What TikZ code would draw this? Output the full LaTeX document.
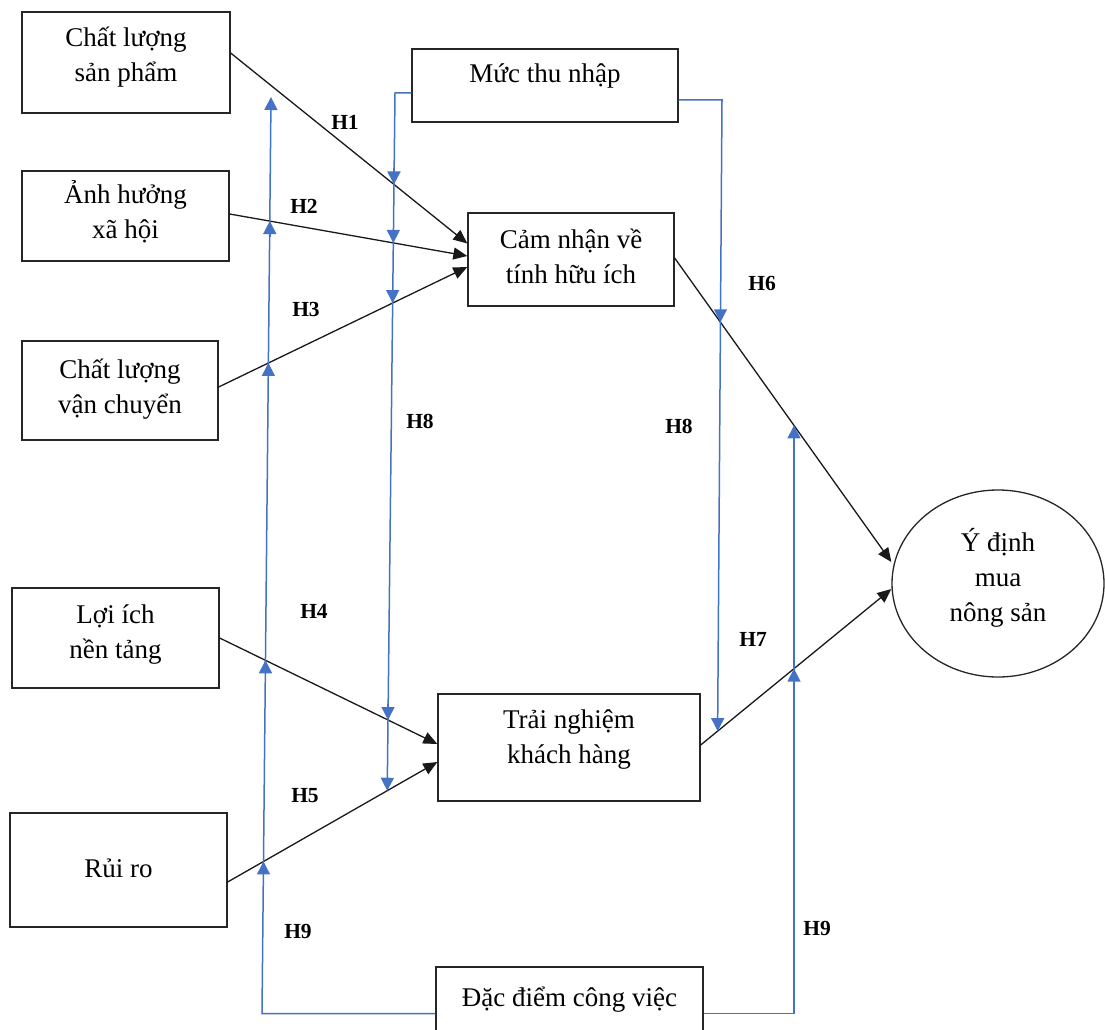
\documentclass[tikz,border=0pt]{standalone}
\usepackage{fontspec}
\setmainfont{Liberation Serif}
\usetikzlibrary{arrows.meta,calc,intersections,shapes.geometric}
\definecolor{wblue}{HTML}{4472C4}
\newcommand\mystrut{\leavevmode\vrule width 0pt height 27pt depth 8pt\relax}
\newcommand\myend[1]{\leavevmode\vrule width 0pt height 27pt depth #1pt\relax}
\tikzset{
  box/.style={draw=black!85, line width=1.3pt, rectangle, inner sep=0pt, align=center,
    font=\fontsize{27}{35}\selectfont},
  oval/.style={draw=black!85, line width=1.3pt, ellipse, inner sep=0pt, align=center,
    font=\fontsize{27}{35}\selectfont},
  conn/.style={draw=black!90, line width=1.3pt, -{Triangle[length=14pt,width=12pt]}},
  bline/.style={draw=wblue, line width=1.5pt},
  barrow/.style={draw=wblue, line width=1.5pt, -{Triangle[length=13pt,width=13pt]}},
  btip/.style={draw=wblue, line width=1.5pt, -{Triangle[length=13pt,width=13pt]}},
  hlab/.style={font=\fontsize{21.5}{24}\selectfont\bfseries, inner sep=0pt},
}
\begin{document}
\begin{tikzpicture}[x=1pt,y=-1pt]
\useasboundingbox (0,0) rectangle (1105,1030);
\fill[white] (0,0) rectangle (1105,1030);

% boxes
\node[box, minimum width=208pt, minimum height=101pt] (b1) at (126,62.5) {Chất lượng\mystrut\\sản phẩm\myend{23}};
\node[box, minimum width=207pt, minimum height=90pt] (b2) at (125.5,216) {Ảnh hưởng\mystrut\\xã hội\myend{18}};
\node[box, minimum width=196pt, minimum height=99pt] (b3) at (120,390.5) {Chất lượng\mystrut\\vận chuyển\myend{17}};
\node[box, minimum width=207pt, minimum height=100pt] (b4) at (115.5,638) {Lợi ích\mystrut\\nền tảng\myend{22}};
\node[box, minimum width=217pt, minimum height=114pt] (b5) at (118.5,870) {Rủi ro\myend{13}};
\node[box, minimum width=266pt, minimum height=73pt] (mt) at (545,85.5) {Mức thu nhập\myend{32}};
\node[box, minimum width=206pt, minimum height=93pt] (cam) at (571,259.5) {Cảm nhận về\mystrut\\tính hữu ích\myend{15}};
\node[box, minimum width=262pt, minimum height=107pt] (tn) at (569,747.5) {Trải nghiệm\mystrut\\khách hàng\myend{31}};
\node[box, minimum width=267pt, minimum height=93pt] (dd) at (569.5,1013.5) {Đặc điểm công việc\myend{42}};
\node[oval, minimum width=212pt, minimum height=187pt] (yd) at (998,583.5) {Ý định\mystrut\\mua\mystrut\\nông sản\myend{22}};

% black connectors
\draw[conn, name path=h1] ($(b1.east)+(0,-9.5)$) -- ($(cam.west)+(0,-16)$);
\draw[conn, name path=h2] ($(b2.east)+(0,-2)$) -- ($(cam.west)+(0,-3.5)$);
\draw[conn, name path=h3] ($(b3.east)+(0,-3.5)$) -- ($(cam.west)+(0,7.5)$);
\draw[conn, name path=h4] (b4.east) -- ($(tn.west)+(0,-3.5)$);
\draw[conn, name path=h5] ($(b5.east)+(0,12)$) -- ($(tn.west)+(0,14.5)$);
\draw[conn, name path=h6] ($(cam.east)+(0,-1.5)$) -- ($(yd.west)+(0,-21.5)$);
\draw[conn, name path=h7] ($(tn.east)+(0,-2.5)$) -- ($(yd.west)+(0,5.5)$);

% blue moderator lines
\coordinate (c1) at (262,1013.5);
\coordinate (v1top) at (271,97);
\coordinate (c2) at (395,93);
\coordinate (c2b) at (386,900);
\coordinate (c3) at (722,100);
\coordinate (c3b) at (717,820);
\coordinate (c4) at (794,1013.5);
\coordinate (c4b) at (794,300);

\path[name path=v1] (c1) -- (v1top);
\path[name path=v2] (c2) -- (c2b);
\path[name path=v3] (c3) -- (c3b);
\path[name path=v4] (c4) -- (c4b);

\path[name intersections={of=v1 and h2, by=a12}];
\path[name intersections={of=v1 and h3, by=a13}];
\path[name intersections={of=v1 and h4, by=a14}];
\path[name intersections={of=v1 and h5, by=a15}];
\path[name intersections={of=v2 and h1, by=a21}];
\path[name intersections={of=v2 and h2, by=a22}];
\path[name intersections={of=v2 and h3, by=a23}];
\path[name intersections={of=v2 and h4, by=a24}];
\path[name intersections={of=v2 and h5, by=v2e}];
\path[name intersections={of=v3 and h6, by=a36}];
\path[name intersections={of=v3 and h7, by=v3e}];
\path[name intersections={of=v4 and h6, by=v4e}];
\path[name intersections={of=v4 and h7, by=a47}];

\draw[barrow] (dd.west) -- (c1) -- (v1top);
\draw[barrow] ($(mt.west)+(0,7.5)$) -- (c2) -- (v2e);
\draw[barrow] ($(mt.east)+(0,14.5)$) -- (c3) -- (v3e);
\draw[barrow] (dd.east) -- (c4) -- (v4e);

% arrow heads at crossings
\foreach \p in {a12,a13,a14,a15,a47}{
  \draw[btip] ($(\p)+(0,16)$) -- (\p);
}
\foreach \p in {a21,a22,a23,a24,a36}{
  \draw[btip] ($(\p)+(0,-16)$) -- (\p);
}

% hypothesis labels
\node[hlab] (lh1) at (345,122.5) {H1};
\node[hlab] (lh2) at (304,206.5) {H2};
\node[hlab] (lh3) at (306,309) {H3};
\node[hlab] (lh4) at (314,611) {H4};
\node[hlab] (lh5) at (305,796) {H5};
\node[hlab] (lh6) at (762,283.5) {H6};
\node[hlab] (lh7) at (753,639.5) {H7};
\node[hlab] (lh8a) at (420,421) {H8};
\node[hlab] (lh8b) at (679,426.5) {H8};
\node[hlab] (lh9a) at (298,931) {H9};
\node[hlab] (lh9b) at (817,928) {H9};
\end{tikzpicture}
\end{document}
